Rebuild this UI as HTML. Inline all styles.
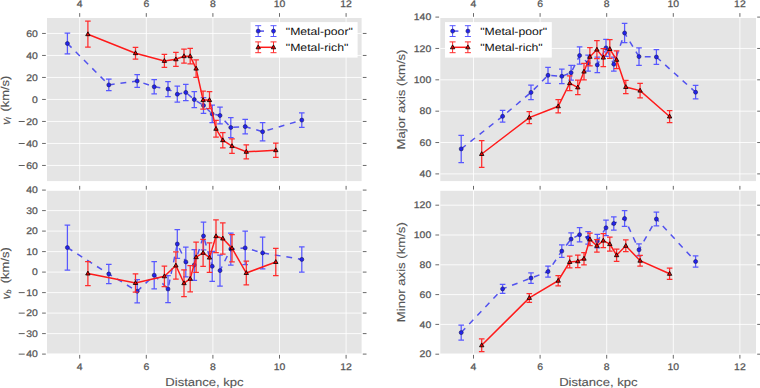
<!DOCTYPE html>
<html><head><meta charset="utf-8"><style>
html,body{margin:0;padding:0;background:#fff;width:760px;height:388px;overflow:hidden}
svg{display:block}
text{text-rendering:geometricPrecision}
.tk{font-family:"Liberation Sans",sans-serif;font-size:9.6px;fill:#555;stroke:#555;stroke-width:0.25px}
.lg{font-family:"Liberation Sans",sans-serif;font-size:10.5px;fill:#111}
.al{font-family:"Liberation Sans",sans-serif;font-size:11.4px;fill:#555;stroke:#555;stroke-width:0.12px}
.it{font-family:"Liberation Sans",sans-serif;font-style:italic;font-size:11.5px;fill:#555;stroke:#555;stroke-width:0.25px}
</style></head><body>
<svg width="760" height="388" viewBox="0 0 760 388">
<defs><clipPath id="cTL"><rect x="47.0" y="18.0" width="314.60" height="163.10"/></clipPath><clipPath id="cTR"><rect x="440.3" y="18.0" width="315.70" height="163.10"/></clipPath><clipPath id="cBL"><rect x="47.0" y="190.8" width="314.60" height="162.90"/></clipPath><clipPath id="cBR"><rect x="440.3" y="190.8" width="315.70" height="162.90"/></clipPath></defs>
<rect x="47.0" y="18.0" width="314.60" height="163.10" fill="#e5e5e5"/>
<line x1="47.0" x2="361.6" y1="33.45" y2="33.45" stroke="#fff" stroke-width="0.85"/>
<line x1="47.0" x2="361.6" y1="55.45" y2="55.45" stroke="#fff" stroke-width="0.85"/>
<line x1="47.0" x2="361.6" y1="77.45" y2="77.45" stroke="#fff" stroke-width="0.85"/>
<line x1="47.0" x2="361.6" y1="99.45" y2="99.45" stroke="#fff" stroke-width="0.85"/>
<line x1="47.0" x2="361.6" y1="121.45" y2="121.45" stroke="#fff" stroke-width="0.85"/>
<line x1="47.0" x2="361.6" y1="143.45" y2="143.45" stroke="#fff" stroke-width="0.85"/>
<line x1="47.0" x2="361.6" y1="165.45" y2="165.45" stroke="#fff" stroke-width="0.85"/>
<line x1="79.70" x2="79.70" y1="18.0" y2="181.1" stroke="#fff" stroke-width="0.85"/>
<line x1="146.30" x2="146.30" y1="18.0" y2="181.1" stroke="#fff" stroke-width="0.85"/>
<line x1="212.90" x2="212.90" y1="18.0" y2="181.1" stroke="#fff" stroke-width="0.85"/>
<line x1="279.50" x2="279.50" y1="18.0" y2="181.1" stroke="#fff" stroke-width="0.85"/>
<line x1="346.10" x2="346.10" y1="18.0" y2="181.1" stroke="#fff" stroke-width="0.85"/>
<line x1="42.1" x2="45.8" y1="33.45" y2="33.45" stroke="#444444" stroke-width="0.8"/>
<line x1="362.8" x2="366.5" y1="33.45" y2="33.45" stroke="#444444" stroke-width="0.8"/>
<line x1="42.1" x2="45.8" y1="55.45" y2="55.45" stroke="#444444" stroke-width="0.8"/>
<line x1="362.8" x2="366.5" y1="55.45" y2="55.45" stroke="#444444" stroke-width="0.8"/>
<line x1="42.1" x2="45.8" y1="77.45" y2="77.45" stroke="#444444" stroke-width="0.8"/>
<line x1="362.8" x2="366.5" y1="77.45" y2="77.45" stroke="#444444" stroke-width="0.8"/>
<line x1="42.1" x2="45.8" y1="99.45" y2="99.45" stroke="#444444" stroke-width="0.8"/>
<line x1="362.8" x2="366.5" y1="99.45" y2="99.45" stroke="#444444" stroke-width="0.8"/>
<line x1="42.1" x2="45.8" y1="121.45" y2="121.45" stroke="#444444" stroke-width="0.8"/>
<line x1="362.8" x2="366.5" y1="121.45" y2="121.45" stroke="#444444" stroke-width="0.8"/>
<line x1="42.1" x2="45.8" y1="143.45" y2="143.45" stroke="#444444" stroke-width="0.8"/>
<line x1="362.8" x2="366.5" y1="143.45" y2="143.45" stroke="#444444" stroke-width="0.8"/>
<line x1="42.1" x2="45.8" y1="165.45" y2="165.45" stroke="#444444" stroke-width="0.8"/>
<line x1="362.8" x2="366.5" y1="165.45" y2="165.45" stroke="#444444" stroke-width="0.8"/>
<line x1="79.70" x2="79.70" y1="13.1" y2="16.8" stroke="#444444" stroke-width="0.8"/>
<line x1="146.30" x2="146.30" y1="13.1" y2="16.8" stroke="#444444" stroke-width="0.8"/>
<line x1="212.90" x2="212.90" y1="13.1" y2="16.8" stroke="#444444" stroke-width="0.8"/>
<line x1="279.50" x2="279.50" y1="13.1" y2="16.8" stroke="#444444" stroke-width="0.8"/>
<line x1="346.10" x2="346.10" y1="13.1" y2="16.8" stroke="#444444" stroke-width="0.8"/>
<text x="37.90" y="36.55" text-anchor="end" class="tk" textLength="11.60" lengthAdjust="spacingAndGlyphs">60</text>
<text x="37.90" y="58.55" text-anchor="end" class="tk" textLength="11.60" lengthAdjust="spacingAndGlyphs">40</text>
<text x="37.90" y="80.55" text-anchor="end" class="tk" textLength="11.60" lengthAdjust="spacingAndGlyphs">20</text>
<text x="37.90" y="102.55" text-anchor="end" class="tk" textLength="5.80" lengthAdjust="spacingAndGlyphs">0</text>
<text x="37.90" y="124.55" text-anchor="end" class="tk" textLength="11.60" lengthAdjust="spacingAndGlyphs">20</text>
<rect x="18.70" y="121.00" width="6.0" height="0.95" fill="#555"/>
<text x="37.90" y="146.55" text-anchor="end" class="tk" textLength="11.60" lengthAdjust="spacingAndGlyphs">40</text>
<rect x="18.70" y="143.00" width="6.0" height="0.95" fill="#555"/>
<text x="37.90" y="168.55" text-anchor="end" class="tk" textLength="11.60" lengthAdjust="spacingAndGlyphs">60</text>
<rect x="18.70" y="165.00" width="6.0" height="0.95" fill="#555"/>
<text x="79.70" y="7.3" text-anchor="middle" class="tk" textLength="5.80" lengthAdjust="spacingAndGlyphs">4</text>
<text x="146.30" y="7.3" text-anchor="middle" class="tk" textLength="5.80" lengthAdjust="spacingAndGlyphs">6</text>
<text x="212.90" y="7.3" text-anchor="middle" class="tk" textLength="5.80" lengthAdjust="spacingAndGlyphs">8</text>
<text x="279.50" y="7.3" text-anchor="middle" class="tk" textLength="11.60" lengthAdjust="spacingAndGlyphs">10</text>
<text x="346.10" y="7.3" text-anchor="middle" class="tk" textLength="11.60" lengthAdjust="spacingAndGlyphs">12</text>
<polyline points="67.40,43.50 108.80,84.90 137.20,81.00 154.20,86.80 168.00,89.00 177.30,94.20 185.80,92.40 194.30,99.60 203.50,105.50 212.20,113.90 220.00,115.50 230.80,127.50 245.20,126.60 262.60,131.70 301.80,120.10" fill="none" stroke="#5252ee" stroke-width="1.5" stroke-dasharray="5.86 5.86" clip-path="url(#cTL)"/>
<path d="M67.40 33.10V53.90M64.60 33.10H70.20M64.60 53.90H70.20" stroke="#5858ff" stroke-width="1.25" fill="none"/>
<path d="M108.80 79.10V90.70M106.00 79.10H111.60M106.00 90.70H111.60" stroke="#5858ff" stroke-width="1.25" fill="none"/>
<path d="M137.20 74.65V87.35M134.40 74.65H140.00M134.40 87.35H140.00" stroke="#5858ff" stroke-width="1.25" fill="none"/>
<path d="M154.20 79.70V93.90M151.40 79.70H157.00M151.40 93.90H157.00" stroke="#5858ff" stroke-width="1.25" fill="none"/>
<path d="M168.00 81.50V96.50M165.20 81.50H170.80M165.20 96.50H170.80" stroke="#5858ff" stroke-width="1.25" fill="none"/>
<path d="M177.30 86.20V102.20M174.50 86.20H180.10M174.50 102.20H180.10" stroke="#5858ff" stroke-width="1.25" fill="none"/>
<path d="M185.80 84.30V100.50M183.00 84.30H188.60M183.00 100.50H188.60" stroke="#5858ff" stroke-width="1.25" fill="none"/>
<path d="M194.30 91.50V107.70M191.50 91.50H197.10M191.50 107.70H197.10" stroke="#5858ff" stroke-width="1.25" fill="none"/>
<path d="M203.50 97.60V113.40M200.70 97.60H206.30M200.70 113.40H206.30" stroke="#5858ff" stroke-width="1.25" fill="none"/>
<path d="M212.20 105.15V122.65M209.40 105.15H215.00M209.40 122.65H215.00" stroke="#5858ff" stroke-width="1.25" fill="none"/>
<path d="M220.00 107.20V123.80M217.20 107.20H222.80M217.20 123.80H222.80" stroke="#5858ff" stroke-width="1.25" fill="none"/>
<path d="M230.80 117.50V137.50M228.00 117.50H233.60M228.00 137.50H233.60" stroke="#5858ff" stroke-width="1.25" fill="none"/>
<path d="M245.20 119.25V133.95M242.40 119.25H248.00M242.40 133.95H248.00" stroke="#5858ff" stroke-width="1.25" fill="none"/>
<path d="M262.60 122.60V140.80M259.80 122.60H265.40M259.80 140.80H265.40" stroke="#5858ff" stroke-width="1.25" fill="none"/>
<path d="M301.80 112.90V127.30M299.00 112.90H304.60M299.00 127.30H304.60" stroke="#5858ff" stroke-width="1.25" fill="none"/>
<circle cx="67.40" cy="43.50" r="2.0" fill="#2222ee" stroke="#1a1a55" stroke-width="0.6"/>
<circle cx="108.80" cy="84.90" r="2.0" fill="#2222ee" stroke="#1a1a55" stroke-width="0.6"/>
<circle cx="137.20" cy="81.00" r="2.0" fill="#2222ee" stroke="#1a1a55" stroke-width="0.6"/>
<circle cx="154.20" cy="86.80" r="2.0" fill="#2222ee" stroke="#1a1a55" stroke-width="0.6"/>
<circle cx="168.00" cy="89.00" r="2.0" fill="#2222ee" stroke="#1a1a55" stroke-width="0.6"/>
<circle cx="177.30" cy="94.20" r="2.0" fill="#2222ee" stroke="#1a1a55" stroke-width="0.6"/>
<circle cx="185.80" cy="92.40" r="2.0" fill="#2222ee" stroke="#1a1a55" stroke-width="0.6"/>
<circle cx="194.30" cy="99.60" r="2.0" fill="#2222ee" stroke="#1a1a55" stroke-width="0.6"/>
<circle cx="203.50" cy="105.50" r="2.0" fill="#2222ee" stroke="#1a1a55" stroke-width="0.6"/>
<circle cx="212.20" cy="113.90" r="2.0" fill="#2222ee" stroke="#1a1a55" stroke-width="0.6"/>
<circle cx="220.00" cy="115.50" r="2.0" fill="#2222ee" stroke="#1a1a55" stroke-width="0.6"/>
<circle cx="230.80" cy="127.50" r="2.0" fill="#2222ee" stroke="#1a1a55" stroke-width="0.6"/>
<circle cx="245.20" cy="126.60" r="2.0" fill="#2222ee" stroke="#1a1a55" stroke-width="0.6"/>
<circle cx="262.60" cy="131.70" r="2.0" fill="#2222ee" stroke="#1a1a55" stroke-width="0.6"/>
<circle cx="301.80" cy="120.10" r="2.0" fill="#2222ee" stroke="#1a1a55" stroke-width="0.6"/>
<polyline points="87.90,34.20 135.50,53.20 164.40,60.90 175.90,59.30 184.00,56.20 190.20,56.20 196.10,68.60 203.10,100.10 209.50,100.10 216.00,128.80 222.80,140.20 232.00,146.10 246.30,151.80 275.80,150.20" fill="none" stroke="#ff1a1a" stroke-width="1.5" clip-path="url(#cTL)"/>
<path d="M87.90 21.20V47.20M85.10 21.20H90.70M85.10 47.20H90.70" stroke="#ff2c2c" stroke-width="1.25" fill="none"/>
<path d="M135.50 47.30V59.10M132.70 47.30H138.30M132.70 59.10H138.30" stroke="#ff2c2c" stroke-width="1.25" fill="none"/>
<path d="M164.40 54.40V67.40M161.60 54.40H167.20M161.60 67.40H167.20" stroke="#ff2c2c" stroke-width="1.25" fill="none"/>
<path d="M175.90 52.30V66.30M173.10 52.30H178.70M173.10 66.30H178.70" stroke="#ff2c2c" stroke-width="1.25" fill="none"/>
<path d="M184.00 49.20V63.20M181.20 49.20H186.80M181.20 63.20H186.80" stroke="#ff2c2c" stroke-width="1.25" fill="none"/>
<path d="M190.20 48.45V63.95M187.40 48.45H193.00M187.40 63.95H193.00" stroke="#ff2c2c" stroke-width="1.25" fill="none"/>
<path d="M196.10 59.95V77.25M193.30 59.95H198.90M193.30 77.25H198.90" stroke="#ff2c2c" stroke-width="1.25" fill="none"/>
<path d="M203.10 91.20V109.00M200.30 91.20H205.90M200.30 109.00H205.90" stroke="#ff2c2c" stroke-width="1.25" fill="none"/>
<path d="M209.50 91.60V108.60M206.70 91.60H212.30M206.70 108.60H212.30" stroke="#ff2c2c" stroke-width="1.25" fill="none"/>
<path d="M216.00 120.45V137.15M213.20 120.45H218.80M213.20 137.15H218.80" stroke="#ff2c2c" stroke-width="1.25" fill="none"/>
<path d="M222.80 132.50V147.90M220.00 132.50H225.60M220.00 147.90H225.60" stroke="#ff2c2c" stroke-width="1.25" fill="none"/>
<path d="M232.00 138.80V153.40M229.20 138.80H234.80M229.20 153.40H234.80" stroke="#ff2c2c" stroke-width="1.25" fill="none"/>
<path d="M246.30 144.80V158.80M243.50 144.80H249.10M243.50 158.80H249.10" stroke="#ff2c2c" stroke-width="1.25" fill="none"/>
<path d="M275.80 143.00V157.40M273.00 143.00H278.60M273.00 157.40H278.60" stroke="#ff2c2c" stroke-width="1.25" fill="none"/>
<path d="M87.90 31.80L90.10 35.70L85.70 35.70Z" fill="#ee0000" stroke="#000" stroke-width="0.8"/>
<path d="M135.50 50.80L137.70 54.70L133.30 54.70Z" fill="#ee0000" stroke="#000" stroke-width="0.8"/>
<path d="M164.40 58.50L166.60 62.40L162.20 62.40Z" fill="#ee0000" stroke="#000" stroke-width="0.8"/>
<path d="M175.90 56.90L178.10 60.80L173.70 60.80Z" fill="#ee0000" stroke="#000" stroke-width="0.8"/>
<path d="M184.00 53.80L186.20 57.70L181.80 57.70Z" fill="#ee0000" stroke="#000" stroke-width="0.8"/>
<path d="M190.20 53.80L192.40 57.70L188.00 57.70Z" fill="#ee0000" stroke="#000" stroke-width="0.8"/>
<path d="M196.10 66.20L198.30 70.10L193.90 70.10Z" fill="#ee0000" stroke="#000" stroke-width="0.8"/>
<path d="M203.10 97.70L205.30 101.60L200.90 101.60Z" fill="#ee0000" stroke="#000" stroke-width="0.8"/>
<path d="M209.50 97.70L211.70 101.60L207.30 101.60Z" fill="#ee0000" stroke="#000" stroke-width="0.8"/>
<path d="M216.00 126.40L218.20 130.30L213.80 130.30Z" fill="#ee0000" stroke="#000" stroke-width="0.8"/>
<path d="M222.80 137.80L225.00 141.70L220.60 141.70Z" fill="#ee0000" stroke="#000" stroke-width="0.8"/>
<path d="M232.00 143.70L234.20 147.60L229.80 147.60Z" fill="#ee0000" stroke="#000" stroke-width="0.8"/>
<path d="M246.30 149.40L248.50 153.30L244.10 153.30Z" fill="#ee0000" stroke="#000" stroke-width="0.8"/>
<path d="M275.80 147.80L278.00 151.70L273.60 151.70Z" fill="#ee0000" stroke="#000" stroke-width="0.8"/>
<rect x="440.3" y="18.0" width="315.70" height="163.10" fill="#e5e5e5"/>
<line x1="440.3" x2="756.0" y1="48.46" y2="48.46" stroke="#fff" stroke-width="0.85"/>
<line x1="440.3" x2="756.0" y1="79.82" y2="79.82" stroke="#fff" stroke-width="0.85"/>
<line x1="440.3" x2="756.0" y1="111.18" y2="111.18" stroke="#fff" stroke-width="0.85"/>
<line x1="440.3" x2="756.0" y1="142.54" y2="142.54" stroke="#fff" stroke-width="0.85"/>
<line x1="440.3" x2="756.0" y1="173.90" y2="173.90" stroke="#fff" stroke-width="0.85"/>
<line x1="473.50" x2="473.50" y1="18.0" y2="181.1" stroke="#fff" stroke-width="0.85"/>
<line x1="540.10" x2="540.10" y1="18.0" y2="181.1" stroke="#fff" stroke-width="0.85"/>
<line x1="606.70" x2="606.70" y1="18.0" y2="181.1" stroke="#fff" stroke-width="0.85"/>
<line x1="673.30" x2="673.30" y1="18.0" y2="181.1" stroke="#fff" stroke-width="0.85"/>
<line x1="739.90" x2="739.90" y1="18.0" y2="181.1" stroke="#fff" stroke-width="0.85"/>
<line x1="435.40000000000003" x2="439.1" y1="17.10" y2="17.10" stroke="#444444" stroke-width="0.8"/>
<line x1="757.2" x2="760.9" y1="17.10" y2="17.10" stroke="#444444" stroke-width="0.8"/>
<line x1="435.40000000000003" x2="439.1" y1="48.46" y2="48.46" stroke="#444444" stroke-width="0.8"/>
<line x1="757.2" x2="760.9" y1="48.46" y2="48.46" stroke="#444444" stroke-width="0.8"/>
<line x1="435.40000000000003" x2="439.1" y1="79.82" y2="79.82" stroke="#444444" stroke-width="0.8"/>
<line x1="757.2" x2="760.9" y1="79.82" y2="79.82" stroke="#444444" stroke-width="0.8"/>
<line x1="435.40000000000003" x2="439.1" y1="111.18" y2="111.18" stroke="#444444" stroke-width="0.8"/>
<line x1="757.2" x2="760.9" y1="111.18" y2="111.18" stroke="#444444" stroke-width="0.8"/>
<line x1="435.40000000000003" x2="439.1" y1="142.54" y2="142.54" stroke="#444444" stroke-width="0.8"/>
<line x1="757.2" x2="760.9" y1="142.54" y2="142.54" stroke="#444444" stroke-width="0.8"/>
<line x1="435.40000000000003" x2="439.1" y1="173.90" y2="173.90" stroke="#444444" stroke-width="0.8"/>
<line x1="757.2" x2="760.9" y1="173.90" y2="173.90" stroke="#444444" stroke-width="0.8"/>
<line x1="473.50" x2="473.50" y1="13.1" y2="16.8" stroke="#444444" stroke-width="0.8"/>
<line x1="540.10" x2="540.10" y1="13.1" y2="16.8" stroke="#444444" stroke-width="0.8"/>
<line x1="606.70" x2="606.70" y1="13.1" y2="16.8" stroke="#444444" stroke-width="0.8"/>
<line x1="673.30" x2="673.30" y1="13.1" y2="16.8" stroke="#444444" stroke-width="0.8"/>
<line x1="739.90" x2="739.90" y1="13.1" y2="16.8" stroke="#444444" stroke-width="0.8"/>
<text x="431.20" y="20.20" text-anchor="end" class="tk" textLength="17.40" lengthAdjust="spacingAndGlyphs">140</text>
<text x="431.20" y="51.56" text-anchor="end" class="tk" textLength="17.40" lengthAdjust="spacingAndGlyphs">120</text>
<text x="431.20" y="82.92" text-anchor="end" class="tk" textLength="17.40" lengthAdjust="spacingAndGlyphs">100</text>
<text x="431.20" y="114.28" text-anchor="end" class="tk" textLength="11.60" lengthAdjust="spacingAndGlyphs">80</text>
<text x="431.20" y="145.64" text-anchor="end" class="tk" textLength="11.60" lengthAdjust="spacingAndGlyphs">60</text>
<text x="431.20" y="177.00" text-anchor="end" class="tk" textLength="11.60" lengthAdjust="spacingAndGlyphs">40</text>
<text x="473.50" y="7.3" text-anchor="middle" class="tk" textLength="5.80" lengthAdjust="spacingAndGlyphs">4</text>
<text x="540.10" y="7.3" text-anchor="middle" class="tk" textLength="5.80" lengthAdjust="spacingAndGlyphs">6</text>
<text x="606.70" y="7.3" text-anchor="middle" class="tk" textLength="5.80" lengthAdjust="spacingAndGlyphs">8</text>
<text x="673.30" y="7.3" text-anchor="middle" class="tk" textLength="11.60" lengthAdjust="spacingAndGlyphs">10</text>
<text x="739.90" y="7.3" text-anchor="middle" class="tk" textLength="11.60" lengthAdjust="spacingAndGlyphs">12</text>
<polyline points="461.20,148.90 502.60,116.30 531.00,92.40 548.00,75.30 561.80,76.30 571.10,72.70 579.60,55.50 588.10,63.00 597.30,64.90 606.00,47.90 613.80,64.20 624.60,33.00 639.00,56.60 656.40,57.00 695.60,92.20" fill="none" stroke="#5252ee" stroke-width="1.5" stroke-dasharray="5.86 5.86" clip-path="url(#cTR)"/>
<path d="M461.20 135.30V162.50M458.40 135.30H464.00M458.40 162.50H464.00" stroke="#5858ff" stroke-width="1.25" fill="none"/>
<path d="M502.60 110.45V122.15M499.80 110.45H505.40M499.80 122.15H505.40" stroke="#5858ff" stroke-width="1.25" fill="none"/>
<path d="M531.00 85.20V99.60M528.20 85.20H533.80M528.20 99.60H533.80" stroke="#5858ff" stroke-width="1.25" fill="none"/>
<path d="M548.00 67.35V83.25M545.20 67.35H550.80M545.20 83.25H550.80" stroke="#5858ff" stroke-width="1.25" fill="none"/>
<path d="M561.80 69.10V83.50M559.00 69.10H564.60M559.00 83.50H564.60" stroke="#5858ff" stroke-width="1.25" fill="none"/>
<path d="M571.10 65.40V80.00M568.30 65.40H573.90M568.30 80.00H573.90" stroke="#5858ff" stroke-width="1.25" fill="none"/>
<path d="M579.60 46.85V64.15M576.80 46.85H582.40M576.80 64.15H582.40" stroke="#5858ff" stroke-width="1.25" fill="none"/>
<path d="M588.10 55.00V71.00M585.30 55.00H590.90M585.30 71.00H590.90" stroke="#5858ff" stroke-width="1.25" fill="none"/>
<path d="M597.30 57.15V72.65M594.50 57.15H600.10M594.50 72.65H600.10" stroke="#5858ff" stroke-width="1.25" fill="none"/>
<path d="M606.00 39.35V56.45M603.20 39.35H608.80M603.20 56.45H608.80" stroke="#5858ff" stroke-width="1.25" fill="none"/>
<path d="M613.80 57.20V71.20M611.00 57.20H616.60M611.00 71.20H616.60" stroke="#5858ff" stroke-width="1.25" fill="none"/>
<path d="M624.60 23.35V42.65M621.80 23.35H627.40M621.80 42.65H627.40" stroke="#5858ff" stroke-width="1.25" fill="none"/>
<path d="M639.00 47.75V65.45M636.20 47.75H641.80M636.20 65.45H641.80" stroke="#5858ff" stroke-width="1.25" fill="none"/>
<path d="M656.40 49.55V64.45M653.60 49.55H659.20M653.60 64.45H659.20" stroke="#5858ff" stroke-width="1.25" fill="none"/>
<path d="M695.60 85.45V98.95M692.80 85.45H698.40M692.80 98.95H698.40" stroke="#5858ff" stroke-width="1.25" fill="none"/>
<circle cx="461.20" cy="148.90" r="2.0" fill="#2222ee" stroke="#1a1a55" stroke-width="0.6"/>
<circle cx="502.60" cy="116.30" r="2.0" fill="#2222ee" stroke="#1a1a55" stroke-width="0.6"/>
<circle cx="531.00" cy="92.40" r="2.0" fill="#2222ee" stroke="#1a1a55" stroke-width="0.6"/>
<circle cx="548.00" cy="75.30" r="2.0" fill="#2222ee" stroke="#1a1a55" stroke-width="0.6"/>
<circle cx="561.80" cy="76.30" r="2.0" fill="#2222ee" stroke="#1a1a55" stroke-width="0.6"/>
<circle cx="571.10" cy="72.70" r="2.0" fill="#2222ee" stroke="#1a1a55" stroke-width="0.6"/>
<circle cx="579.60" cy="55.50" r="2.0" fill="#2222ee" stroke="#1a1a55" stroke-width="0.6"/>
<circle cx="588.10" cy="63.00" r="2.0" fill="#2222ee" stroke="#1a1a55" stroke-width="0.6"/>
<circle cx="597.30" cy="64.90" r="2.0" fill="#2222ee" stroke="#1a1a55" stroke-width="0.6"/>
<circle cx="606.00" cy="47.90" r="2.0" fill="#2222ee" stroke="#1a1a55" stroke-width="0.6"/>
<circle cx="613.80" cy="64.20" r="2.0" fill="#2222ee" stroke="#1a1a55" stroke-width="0.6"/>
<circle cx="624.60" cy="33.00" r="2.0" fill="#2222ee" stroke="#1a1a55" stroke-width="0.6"/>
<circle cx="639.00" cy="56.60" r="2.0" fill="#2222ee" stroke="#1a1a55" stroke-width="0.6"/>
<circle cx="656.40" cy="57.00" r="2.0" fill="#2222ee" stroke="#1a1a55" stroke-width="0.6"/>
<circle cx="695.60" cy="92.20" r="2.0" fill="#2222ee" stroke="#1a1a55" stroke-width="0.6"/>
<polyline points="481.70,154.00 529.30,117.60 558.20,106.30 569.70,83.20 577.80,87.40 584.00,71.60 589.90,56.80 596.90,49.60 603.30,57.60 609.80,49.00 616.60,59.80 625.80,87.00 640.10,90.60 669.60,116.50" fill="none" stroke="#ff1a1a" stroke-width="1.5" clip-path="url(#cTR)"/>
<path d="M481.70 140.70V167.30M478.90 140.70H484.50M478.90 167.30H484.50" stroke="#ff2c2c" stroke-width="1.25" fill="none"/>
<path d="M529.30 111.65V123.55M526.50 111.65H532.10M526.50 123.55H532.10" stroke="#ff2c2c" stroke-width="1.25" fill="none"/>
<path d="M558.20 99.70V112.90M555.40 99.70H561.00M555.40 112.90H561.00" stroke="#ff2c2c" stroke-width="1.25" fill="none"/>
<path d="M569.70 75.90V90.50M566.90 75.90H572.50M566.90 90.50H572.50" stroke="#ff2c2c" stroke-width="1.25" fill="none"/>
<path d="M577.80 80.15V94.65M575.00 80.15H580.60M575.00 94.65H580.60" stroke="#ff2c2c" stroke-width="1.25" fill="none"/>
<path d="M584.00 63.45V79.75M581.20 63.45H586.80M581.20 79.75H586.80" stroke="#ff2c2c" stroke-width="1.25" fill="none"/>
<path d="M589.90 47.70V65.90M587.10 47.70H592.70M587.10 65.90H592.70" stroke="#ff2c2c" stroke-width="1.25" fill="none"/>
<path d="M596.90 40.65V58.55M594.10 40.65H599.70M594.10 58.55H599.70" stroke="#ff2c2c" stroke-width="1.25" fill="none"/>
<path d="M603.30 48.55V66.65M600.50 48.55H606.10M600.50 66.65H606.10" stroke="#ff2c2c" stroke-width="1.25" fill="none"/>
<path d="M609.80 39.70V58.30M607.00 39.70H612.60M607.00 58.30H612.60" stroke="#ff2c2c" stroke-width="1.25" fill="none"/>
<path d="M616.60 50.90V68.70M613.80 50.90H619.40M613.80 68.70H619.40" stroke="#ff2c2c" stroke-width="1.25" fill="none"/>
<path d="M625.80 80.45V93.55M623.00 80.45H628.60M623.00 93.55H628.60" stroke="#ff2c2c" stroke-width="1.25" fill="none"/>
<path d="M640.10 83.35V97.85M637.30 83.35H642.90M637.30 97.85H642.90" stroke="#ff2c2c" stroke-width="1.25" fill="none"/>
<path d="M669.60 110.50V122.50M666.80 110.50H672.40M666.80 122.50H672.40" stroke="#ff2c2c" stroke-width="1.25" fill="none"/>
<path d="M481.70 151.60L483.90 155.50L479.50 155.50Z" fill="#ee0000" stroke="#000" stroke-width="0.8"/>
<path d="M529.30 115.20L531.50 119.10L527.10 119.10Z" fill="#ee0000" stroke="#000" stroke-width="0.8"/>
<path d="M558.20 103.90L560.40 107.80L556.00 107.80Z" fill="#ee0000" stroke="#000" stroke-width="0.8"/>
<path d="M569.70 80.80L571.90 84.70L567.50 84.70Z" fill="#ee0000" stroke="#000" stroke-width="0.8"/>
<path d="M577.80 85.00L580.00 88.90L575.60 88.90Z" fill="#ee0000" stroke="#000" stroke-width="0.8"/>
<path d="M584.00 69.20L586.20 73.10L581.80 73.10Z" fill="#ee0000" stroke="#000" stroke-width="0.8"/>
<path d="M589.90 54.40L592.10 58.30L587.70 58.30Z" fill="#ee0000" stroke="#000" stroke-width="0.8"/>
<path d="M596.90 47.20L599.10 51.10L594.70 51.10Z" fill="#ee0000" stroke="#000" stroke-width="0.8"/>
<path d="M603.30 55.20L605.50 59.10L601.10 59.10Z" fill="#ee0000" stroke="#000" stroke-width="0.8"/>
<path d="M609.80 46.60L612.00 50.50L607.60 50.50Z" fill="#ee0000" stroke="#000" stroke-width="0.8"/>
<path d="M616.60 57.40L618.80 61.30L614.40 61.30Z" fill="#ee0000" stroke="#000" stroke-width="0.8"/>
<path d="M625.80 84.60L628.00 88.50L623.60 88.50Z" fill="#ee0000" stroke="#000" stroke-width="0.8"/>
<path d="M640.10 88.20L642.30 92.10L637.90 92.10Z" fill="#ee0000" stroke="#000" stroke-width="0.8"/>
<path d="M669.60 114.10L671.80 118.00L667.40 118.00Z" fill="#ee0000" stroke="#000" stroke-width="0.8"/>
<rect x="47.0" y="190.8" width="314.60" height="162.90" fill="#e5e5e5"/>
<line x1="47.0" x2="361.6" y1="210.60" y2="210.60" stroke="#fff" stroke-width="0.85"/>
<line x1="47.0" x2="361.6" y1="231.10" y2="231.10" stroke="#fff" stroke-width="0.85"/>
<line x1="47.0" x2="361.6" y1="251.60" y2="251.60" stroke="#fff" stroke-width="0.85"/>
<line x1="47.0" x2="361.6" y1="272.10" y2="272.10" stroke="#fff" stroke-width="0.85"/>
<line x1="47.0" x2="361.6" y1="292.60" y2="292.60" stroke="#fff" stroke-width="0.85"/>
<line x1="47.0" x2="361.6" y1="313.10" y2="313.10" stroke="#fff" stroke-width="0.85"/>
<line x1="47.0" x2="361.6" y1="333.60" y2="333.60" stroke="#fff" stroke-width="0.85"/>
<line x1="47.0" x2="361.6" y1="354.10" y2="354.10" stroke="#fff" stroke-width="0.85"/>
<line x1="79.70" x2="79.70" y1="190.8" y2="353.7" stroke="#fff" stroke-width="0.85"/>
<line x1="146.30" x2="146.30" y1="190.8" y2="353.7" stroke="#fff" stroke-width="0.85"/>
<line x1="212.90" x2="212.90" y1="190.8" y2="353.7" stroke="#fff" stroke-width="0.85"/>
<line x1="279.50" x2="279.50" y1="190.8" y2="353.7" stroke="#fff" stroke-width="0.85"/>
<line x1="346.10" x2="346.10" y1="190.8" y2="353.7" stroke="#fff" stroke-width="0.85"/>
<line x1="42.1" x2="45.8" y1="190.10" y2="190.10" stroke="#444444" stroke-width="0.8"/>
<line x1="362.8" x2="366.5" y1="190.10" y2="190.10" stroke="#444444" stroke-width="0.8"/>
<line x1="42.1" x2="45.8" y1="210.60" y2="210.60" stroke="#444444" stroke-width="0.8"/>
<line x1="362.8" x2="366.5" y1="210.60" y2="210.60" stroke="#444444" stroke-width="0.8"/>
<line x1="42.1" x2="45.8" y1="231.10" y2="231.10" stroke="#444444" stroke-width="0.8"/>
<line x1="362.8" x2="366.5" y1="231.10" y2="231.10" stroke="#444444" stroke-width="0.8"/>
<line x1="42.1" x2="45.8" y1="251.60" y2="251.60" stroke="#444444" stroke-width="0.8"/>
<line x1="362.8" x2="366.5" y1="251.60" y2="251.60" stroke="#444444" stroke-width="0.8"/>
<line x1="42.1" x2="45.8" y1="272.10" y2="272.10" stroke="#444444" stroke-width="0.8"/>
<line x1="362.8" x2="366.5" y1="272.10" y2="272.10" stroke="#444444" stroke-width="0.8"/>
<line x1="42.1" x2="45.8" y1="292.60" y2="292.60" stroke="#444444" stroke-width="0.8"/>
<line x1="362.8" x2="366.5" y1="292.60" y2="292.60" stroke="#444444" stroke-width="0.8"/>
<line x1="42.1" x2="45.8" y1="313.10" y2="313.10" stroke="#444444" stroke-width="0.8"/>
<line x1="362.8" x2="366.5" y1="313.10" y2="313.10" stroke="#444444" stroke-width="0.8"/>
<line x1="42.1" x2="45.8" y1="333.60" y2="333.60" stroke="#444444" stroke-width="0.8"/>
<line x1="362.8" x2="366.5" y1="333.60" y2="333.60" stroke="#444444" stroke-width="0.8"/>
<line x1="42.1" x2="45.8" y1="354.10" y2="354.10" stroke="#444444" stroke-width="0.8"/>
<line x1="362.8" x2="366.5" y1="354.10" y2="354.10" stroke="#444444" stroke-width="0.8"/>
<line x1="79.70" x2="79.70" y1="185.9" y2="189.60000000000002" stroke="#444444" stroke-width="0.8"/>
<line x1="79.70" x2="79.70" y1="354.9" y2="358.59999999999997" stroke="#444444" stroke-width="0.8"/>
<line x1="146.30" x2="146.30" y1="185.9" y2="189.60000000000002" stroke="#444444" stroke-width="0.8"/>
<line x1="146.30" x2="146.30" y1="354.9" y2="358.59999999999997" stroke="#444444" stroke-width="0.8"/>
<line x1="212.90" x2="212.90" y1="185.9" y2="189.60000000000002" stroke="#444444" stroke-width="0.8"/>
<line x1="212.90" x2="212.90" y1="354.9" y2="358.59999999999997" stroke="#444444" stroke-width="0.8"/>
<line x1="279.50" x2="279.50" y1="185.9" y2="189.60000000000002" stroke="#444444" stroke-width="0.8"/>
<line x1="279.50" x2="279.50" y1="354.9" y2="358.59999999999997" stroke="#444444" stroke-width="0.8"/>
<line x1="346.10" x2="346.10" y1="185.9" y2="189.60000000000002" stroke="#444444" stroke-width="0.8"/>
<line x1="346.10" x2="346.10" y1="354.9" y2="358.59999999999997" stroke="#444444" stroke-width="0.8"/>
<text x="37.90" y="193.20" text-anchor="end" class="tk" textLength="11.60" lengthAdjust="spacingAndGlyphs">40</text>
<text x="37.90" y="213.70" text-anchor="end" class="tk" textLength="11.60" lengthAdjust="spacingAndGlyphs">30</text>
<text x="37.90" y="234.20" text-anchor="end" class="tk" textLength="11.60" lengthAdjust="spacingAndGlyphs">20</text>
<text x="37.90" y="254.70" text-anchor="end" class="tk" textLength="11.60" lengthAdjust="spacingAndGlyphs">10</text>
<text x="37.90" y="275.20" text-anchor="end" class="tk" textLength="5.80" lengthAdjust="spacingAndGlyphs">0</text>
<text x="37.90" y="295.70" text-anchor="end" class="tk" textLength="11.60" lengthAdjust="spacingAndGlyphs">10</text>
<rect x="18.70" y="292.15" width="6.0" height="0.95" fill="#555"/>
<text x="37.90" y="316.20" text-anchor="end" class="tk" textLength="11.60" lengthAdjust="spacingAndGlyphs">20</text>
<rect x="18.70" y="312.65" width="6.0" height="0.95" fill="#555"/>
<text x="37.90" y="336.70" text-anchor="end" class="tk" textLength="11.60" lengthAdjust="spacingAndGlyphs">30</text>
<rect x="18.70" y="333.15" width="6.0" height="0.95" fill="#555"/>
<text x="37.90" y="357.20" text-anchor="end" class="tk" textLength="11.60" lengthAdjust="spacingAndGlyphs">40</text>
<rect x="18.70" y="353.65" width="6.0" height="0.95" fill="#555"/>
<text x="79.70" y="369.5" text-anchor="middle" class="tk" textLength="5.80" lengthAdjust="spacingAndGlyphs">4</text>
<text x="146.30" y="369.5" text-anchor="middle" class="tk" textLength="5.80" lengthAdjust="spacingAndGlyphs">6</text>
<text x="212.90" y="369.5" text-anchor="middle" class="tk" textLength="5.80" lengthAdjust="spacingAndGlyphs">8</text>
<text x="279.50" y="369.5" text-anchor="middle" class="tk" textLength="11.60" lengthAdjust="spacingAndGlyphs">10</text>
<text x="346.10" y="369.5" text-anchor="middle" class="tk" textLength="11.60" lengthAdjust="spacingAndGlyphs">12</text>
<polyline points="67.40,247.60 108.80,274.00 137.20,291.20 154.20,275.20 168.00,289.00 177.30,244.00 185.80,261.90 194.30,265.00 203.50,236.00 212.20,266.30 220.00,270.60 230.80,249.00 245.20,247.90 262.60,252.90 301.80,259.40" fill="none" stroke="#5252ee" stroke-width="1.5" stroke-dasharray="5.86 5.86" clip-path="url(#cBL)"/>
<path d="M67.40 225.10V270.10M64.60 225.10H70.20M64.60 270.10H70.20" stroke="#5858ff" stroke-width="1.25" fill="none"/>
<path d="M108.80 264.35V283.65M106.00 264.35H111.60M106.00 283.65H111.60" stroke="#5858ff" stroke-width="1.25" fill="none"/>
<path d="M137.20 279.60V302.80M134.40 279.60H140.00M134.40 302.80H140.00" stroke="#5858ff" stroke-width="1.25" fill="none"/>
<path d="M154.20 261.60V288.80M151.40 261.60H157.00M151.40 288.80H157.00" stroke="#5858ff" stroke-width="1.25" fill="none"/>
<path d="M168.00 275.50V302.50M165.20 275.50H170.80M165.20 302.50H170.80" stroke="#5858ff" stroke-width="1.25" fill="none"/>
<path d="M177.30 229.70V258.30M174.50 229.70H180.10M174.50 258.30H180.10" stroke="#5858ff" stroke-width="1.25" fill="none"/>
<path d="M185.80 247.05V276.75M183.00 247.05H188.60M183.00 276.75H188.60" stroke="#5858ff" stroke-width="1.25" fill="none"/>
<path d="M194.30 249.65V280.35M191.50 249.65H197.10M191.50 280.35H197.10" stroke="#5858ff" stroke-width="1.25" fill="none"/>
<path d="M203.50 222.15V249.85M200.70 222.15H206.30M200.70 249.85H206.30" stroke="#5858ff" stroke-width="1.25" fill="none"/>
<path d="M212.20 251.35V281.25M209.40 251.35H215.00M209.40 281.25H215.00" stroke="#5858ff" stroke-width="1.25" fill="none"/>
<path d="M220.00 255.10V286.10M217.20 255.10H222.80M217.20 286.10H222.80" stroke="#5858ff" stroke-width="1.25" fill="none"/>
<path d="M230.80 233.00V265.00M228.00 233.00H233.60M228.00 265.00H233.60" stroke="#5858ff" stroke-width="1.25" fill="none"/>
<path d="M245.20 231.20V264.60M242.40 231.20H248.00M242.40 264.60H248.00" stroke="#5858ff" stroke-width="1.25" fill="none"/>
<path d="M262.60 237.05V268.75M259.80 237.05H265.40M259.80 268.75H265.40" stroke="#5858ff" stroke-width="1.25" fill="none"/>
<path d="M301.80 246.75V272.05M299.00 246.75H304.60M299.00 272.05H304.60" stroke="#5858ff" stroke-width="1.25" fill="none"/>
<circle cx="67.40" cy="247.60" r="2.0" fill="#2222ee" stroke="#1a1a55" stroke-width="0.6"/>
<circle cx="108.80" cy="274.00" r="2.0" fill="#2222ee" stroke="#1a1a55" stroke-width="0.6"/>
<circle cx="137.20" cy="291.20" r="2.0" fill="#2222ee" stroke="#1a1a55" stroke-width="0.6"/>
<circle cx="154.20" cy="275.20" r="2.0" fill="#2222ee" stroke="#1a1a55" stroke-width="0.6"/>
<circle cx="168.00" cy="289.00" r="2.0" fill="#2222ee" stroke="#1a1a55" stroke-width="0.6"/>
<circle cx="177.30" cy="244.00" r="2.0" fill="#2222ee" stroke="#1a1a55" stroke-width="0.6"/>
<circle cx="185.80" cy="261.90" r="2.0" fill="#2222ee" stroke="#1a1a55" stroke-width="0.6"/>
<circle cx="194.30" cy="265.00" r="2.0" fill="#2222ee" stroke="#1a1a55" stroke-width="0.6"/>
<circle cx="203.50" cy="236.00" r="2.0" fill="#2222ee" stroke="#1a1a55" stroke-width="0.6"/>
<circle cx="212.20" cy="266.30" r="2.0" fill="#2222ee" stroke="#1a1a55" stroke-width="0.6"/>
<circle cx="220.00" cy="270.60" r="2.0" fill="#2222ee" stroke="#1a1a55" stroke-width="0.6"/>
<circle cx="230.80" cy="249.00" r="2.0" fill="#2222ee" stroke="#1a1a55" stroke-width="0.6"/>
<circle cx="245.20" cy="247.90" r="2.0" fill="#2222ee" stroke="#1a1a55" stroke-width="0.6"/>
<circle cx="262.60" cy="252.90" r="2.0" fill="#2222ee" stroke="#1a1a55" stroke-width="0.6"/>
<circle cx="301.80" cy="259.40" r="2.0" fill="#2222ee" stroke="#1a1a55" stroke-width="0.6"/>
<polyline points="87.90,273.50 135.50,283.00 164.40,276.30 175.90,265.50 184.00,283.20 190.20,278.80 196.10,257.20 203.10,252.80 209.50,257.60 216.00,236.20 222.80,238.50 232.00,248.20 246.30,273.00 275.80,262.00" fill="none" stroke="#ff1a1a" stroke-width="1.5" clip-path="url(#cBL)"/>
<path d="M87.90 261.50V285.50M85.10 261.50H90.70M85.10 285.50H90.70" stroke="#ff2c2c" stroke-width="1.25" fill="none"/>
<path d="M135.50 273.95V292.05M132.70 273.95H138.30M132.70 292.05H138.30" stroke="#ff2c2c" stroke-width="1.25" fill="none"/>
<path d="M164.40 266.05V286.55M161.60 266.05H167.20M161.60 286.55H167.20" stroke="#ff2c2c" stroke-width="1.25" fill="none"/>
<path d="M175.90 251.80V279.20M173.10 251.80H178.70M173.10 279.20H178.70" stroke="#ff2c2c" stroke-width="1.25" fill="none"/>
<path d="M184.00 269.80V296.60M181.20 269.80H186.80M181.20 296.60H186.80" stroke="#ff2c2c" stroke-width="1.25" fill="none"/>
<path d="M190.20 265.70V291.90M187.40 265.70H193.00M187.40 291.90H193.00" stroke="#ff2c2c" stroke-width="1.25" fill="none"/>
<path d="M196.10 242.15V272.25M193.30 242.15H198.90M193.30 272.25H198.90" stroke="#ff2c2c" stroke-width="1.25" fill="none"/>
<path d="M203.10 239.30V266.30M200.30 239.30H205.90M200.30 266.30H205.90" stroke="#ff2c2c" stroke-width="1.25" fill="none"/>
<path d="M209.50 242.95V272.25M206.70 242.95H212.30M206.70 272.25H212.30" stroke="#ff2c2c" stroke-width="1.25" fill="none"/>
<path d="M216.00 219.90V252.50M213.20 219.90H218.80M213.20 252.50H218.80" stroke="#ff2c2c" stroke-width="1.25" fill="none"/>
<path d="M222.80 222.90V254.10M220.00 222.90H225.60M220.00 254.10H225.60" stroke="#ff2c2c" stroke-width="1.25" fill="none"/>
<path d="M232.00 234.65V261.75M229.20 234.65H234.80M229.20 261.75H234.80" stroke="#ff2c2c" stroke-width="1.25" fill="none"/>
<path d="M246.30 261.05V284.95M243.50 261.05H249.10M243.50 284.95H249.10" stroke="#ff2c2c" stroke-width="1.25" fill="none"/>
<path d="M275.80 248.35V275.65M273.00 248.35H278.60M273.00 275.65H278.60" stroke="#ff2c2c" stroke-width="1.25" fill="none"/>
<path d="M87.90 271.10L90.10 275.00L85.70 275.00Z" fill="#ee0000" stroke="#000" stroke-width="0.8"/>
<path d="M135.50 280.60L137.70 284.50L133.30 284.50Z" fill="#ee0000" stroke="#000" stroke-width="0.8"/>
<path d="M164.40 273.90L166.60 277.80L162.20 277.80Z" fill="#ee0000" stroke="#000" stroke-width="0.8"/>
<path d="M175.90 263.10L178.10 267.00L173.70 267.00Z" fill="#ee0000" stroke="#000" stroke-width="0.8"/>
<path d="M184.00 280.80L186.20 284.70L181.80 284.70Z" fill="#ee0000" stroke="#000" stroke-width="0.8"/>
<path d="M190.20 276.40L192.40 280.30L188.00 280.30Z" fill="#ee0000" stroke="#000" stroke-width="0.8"/>
<path d="M196.10 254.80L198.30 258.70L193.90 258.70Z" fill="#ee0000" stroke="#000" stroke-width="0.8"/>
<path d="M203.10 250.40L205.30 254.30L200.90 254.30Z" fill="#ee0000" stroke="#000" stroke-width="0.8"/>
<path d="M209.50 255.20L211.70 259.10L207.30 259.10Z" fill="#ee0000" stroke="#000" stroke-width="0.8"/>
<path d="M216.00 233.80L218.20 237.70L213.80 237.70Z" fill="#ee0000" stroke="#000" stroke-width="0.8"/>
<path d="M222.80 236.10L225.00 240.00L220.60 240.00Z" fill="#ee0000" stroke="#000" stroke-width="0.8"/>
<path d="M232.00 245.80L234.20 249.70L229.80 249.70Z" fill="#ee0000" stroke="#000" stroke-width="0.8"/>
<path d="M246.30 270.60L248.50 274.50L244.10 274.50Z" fill="#ee0000" stroke="#000" stroke-width="0.8"/>
<path d="M275.80 259.60L278.00 263.50L273.60 263.50Z" fill="#ee0000" stroke="#000" stroke-width="0.8"/>
<rect x="440.3" y="190.8" width="315.70" height="162.90" fill="#e5e5e5"/>
<line x1="440.3" x2="756.0" y1="205.20" y2="205.20" stroke="#fff" stroke-width="0.85"/>
<line x1="440.3" x2="756.0" y1="235.00" y2="235.00" stroke="#fff" stroke-width="0.85"/>
<line x1="440.3" x2="756.0" y1="264.80" y2="264.80" stroke="#fff" stroke-width="0.85"/>
<line x1="440.3" x2="756.0" y1="294.60" y2="294.60" stroke="#fff" stroke-width="0.85"/>
<line x1="440.3" x2="756.0" y1="324.40" y2="324.40" stroke="#fff" stroke-width="0.85"/>
<line x1="440.3" x2="756.0" y1="354.20" y2="354.20" stroke="#fff" stroke-width="0.85"/>
<line x1="473.50" x2="473.50" y1="190.8" y2="353.7" stroke="#fff" stroke-width="0.85"/>
<line x1="540.10" x2="540.10" y1="190.8" y2="353.7" stroke="#fff" stroke-width="0.85"/>
<line x1="606.70" x2="606.70" y1="190.8" y2="353.7" stroke="#fff" stroke-width="0.85"/>
<line x1="673.30" x2="673.30" y1="190.8" y2="353.7" stroke="#fff" stroke-width="0.85"/>
<line x1="739.90" x2="739.90" y1="190.8" y2="353.7" stroke="#fff" stroke-width="0.85"/>
<line x1="435.40000000000003" x2="439.1" y1="205.20" y2="205.20" stroke="#444444" stroke-width="0.8"/>
<line x1="757.2" x2="760.9" y1="205.20" y2="205.20" stroke="#444444" stroke-width="0.8"/>
<line x1="435.40000000000003" x2="439.1" y1="235.00" y2="235.00" stroke="#444444" stroke-width="0.8"/>
<line x1="757.2" x2="760.9" y1="235.00" y2="235.00" stroke="#444444" stroke-width="0.8"/>
<line x1="435.40000000000003" x2="439.1" y1="264.80" y2="264.80" stroke="#444444" stroke-width="0.8"/>
<line x1="757.2" x2="760.9" y1="264.80" y2="264.80" stroke="#444444" stroke-width="0.8"/>
<line x1="435.40000000000003" x2="439.1" y1="294.60" y2="294.60" stroke="#444444" stroke-width="0.8"/>
<line x1="757.2" x2="760.9" y1="294.60" y2="294.60" stroke="#444444" stroke-width="0.8"/>
<line x1="435.40000000000003" x2="439.1" y1="324.40" y2="324.40" stroke="#444444" stroke-width="0.8"/>
<line x1="757.2" x2="760.9" y1="324.40" y2="324.40" stroke="#444444" stroke-width="0.8"/>
<line x1="435.40000000000003" x2="439.1" y1="354.20" y2="354.20" stroke="#444444" stroke-width="0.8"/>
<line x1="757.2" x2="760.9" y1="354.20" y2="354.20" stroke="#444444" stroke-width="0.8"/>
<line x1="473.50" x2="473.50" y1="185.9" y2="189.60000000000002" stroke="#444444" stroke-width="0.8"/>
<line x1="473.50" x2="473.50" y1="354.9" y2="358.59999999999997" stroke="#444444" stroke-width="0.8"/>
<line x1="540.10" x2="540.10" y1="185.9" y2="189.60000000000002" stroke="#444444" stroke-width="0.8"/>
<line x1="540.10" x2="540.10" y1="354.9" y2="358.59999999999997" stroke="#444444" stroke-width="0.8"/>
<line x1="606.70" x2="606.70" y1="185.9" y2="189.60000000000002" stroke="#444444" stroke-width="0.8"/>
<line x1="606.70" x2="606.70" y1="354.9" y2="358.59999999999997" stroke="#444444" stroke-width="0.8"/>
<line x1="673.30" x2="673.30" y1="185.9" y2="189.60000000000002" stroke="#444444" stroke-width="0.8"/>
<line x1="673.30" x2="673.30" y1="354.9" y2="358.59999999999997" stroke="#444444" stroke-width="0.8"/>
<line x1="739.90" x2="739.90" y1="185.9" y2="189.60000000000002" stroke="#444444" stroke-width="0.8"/>
<line x1="739.90" x2="739.90" y1="354.9" y2="358.59999999999997" stroke="#444444" stroke-width="0.8"/>
<text x="431.20" y="208.30" text-anchor="end" class="tk" textLength="17.40" lengthAdjust="spacingAndGlyphs">120</text>
<text x="431.20" y="238.10" text-anchor="end" class="tk" textLength="17.40" lengthAdjust="spacingAndGlyphs">100</text>
<text x="431.20" y="267.90" text-anchor="end" class="tk" textLength="11.60" lengthAdjust="spacingAndGlyphs">80</text>
<text x="431.20" y="297.70" text-anchor="end" class="tk" textLength="11.60" lengthAdjust="spacingAndGlyphs">60</text>
<text x="431.20" y="327.50" text-anchor="end" class="tk" textLength="11.60" lengthAdjust="spacingAndGlyphs">40</text>
<text x="431.20" y="357.30" text-anchor="end" class="tk" textLength="11.60" lengthAdjust="spacingAndGlyphs">20</text>
<text x="473.50" y="369.5" text-anchor="middle" class="tk" textLength="5.80" lengthAdjust="spacingAndGlyphs">4</text>
<text x="540.10" y="369.5" text-anchor="middle" class="tk" textLength="5.80" lengthAdjust="spacingAndGlyphs">6</text>
<text x="606.70" y="369.5" text-anchor="middle" class="tk" textLength="5.80" lengthAdjust="spacingAndGlyphs">8</text>
<text x="673.30" y="369.5" text-anchor="middle" class="tk" textLength="11.60" lengthAdjust="spacingAndGlyphs">10</text>
<text x="739.90" y="369.5" text-anchor="middle" class="tk" textLength="11.60" lengthAdjust="spacingAndGlyphs">12</text>
<polyline points="461.20,332.60 502.60,288.90 531.00,278.10 548.00,271.60 561.80,251.10 571.10,239.10 579.60,234.70 588.10,237.80 597.30,241.10 606.00,227.80 613.80,223.50 624.60,218.50 639.00,249.80 656.40,219.00 695.60,261.50" fill="none" stroke="#5252ee" stroke-width="1.5" stroke-dasharray="5.86 5.86" clip-path="url(#cBR)"/>
<path d="M461.20 325.10V340.10M458.40 325.10H464.00M458.40 340.10H464.00" stroke="#5858ff" stroke-width="1.25" fill="none"/>
<path d="M502.60 284.40V293.40M499.80 284.40H505.40M499.80 293.40H505.40" stroke="#5858ff" stroke-width="1.25" fill="none"/>
<path d="M531.00 272.95V283.25M528.20 272.95H533.80M528.20 283.25H533.80" stroke="#5858ff" stroke-width="1.25" fill="none"/>
<path d="M548.00 266.20V277.00M545.20 266.20H550.80M545.20 277.00H550.80" stroke="#5858ff" stroke-width="1.25" fill="none"/>
<path d="M561.80 244.95V257.25M559.00 244.95H564.60M559.00 257.25H564.60" stroke="#5858ff" stroke-width="1.25" fill="none"/>
<path d="M571.10 232.80V245.40M568.30 232.80H573.90M568.30 245.40H573.90" stroke="#5858ff" stroke-width="1.25" fill="none"/>
<path d="M579.60 227.55V241.85M576.80 227.55H582.40M576.80 241.85H582.40" stroke="#5858ff" stroke-width="1.25" fill="none"/>
<path d="M588.10 231.60V244.00M585.30 231.60H590.90M585.30 244.00H590.90" stroke="#5858ff" stroke-width="1.25" fill="none"/>
<path d="M597.30 234.45V247.75M594.50 234.45H600.10M594.50 247.75H600.10" stroke="#5858ff" stroke-width="1.25" fill="none"/>
<path d="M606.00 220.10V235.50M603.20 220.10H608.80M603.20 235.50H608.80" stroke="#5858ff" stroke-width="1.25" fill="none"/>
<path d="M613.80 216.95V230.05M611.00 216.95H616.60M611.00 230.05H616.60" stroke="#5858ff" stroke-width="1.25" fill="none"/>
<path d="M624.60 210.60V226.40M621.80 210.60H627.40M621.80 226.40H627.40" stroke="#5858ff" stroke-width="1.25" fill="none"/>
<path d="M639.00 243.75V255.85M636.20 243.75H641.80M636.20 255.85H641.80" stroke="#5858ff" stroke-width="1.25" fill="none"/>
<path d="M656.40 212.05V225.95M653.60 212.05H659.20M653.60 225.95H659.20" stroke="#5858ff" stroke-width="1.25" fill="none"/>
<path d="M695.60 255.90V267.10M692.80 255.90H698.40M692.80 267.10H698.40" stroke="#5858ff" stroke-width="1.25" fill="none"/>
<circle cx="461.20" cy="332.60" r="2.0" fill="#2222ee" stroke="#1a1a55" stroke-width="0.6"/>
<circle cx="502.60" cy="288.90" r="2.0" fill="#2222ee" stroke="#1a1a55" stroke-width="0.6"/>
<circle cx="531.00" cy="278.10" r="2.0" fill="#2222ee" stroke="#1a1a55" stroke-width="0.6"/>
<circle cx="548.00" cy="271.60" r="2.0" fill="#2222ee" stroke="#1a1a55" stroke-width="0.6"/>
<circle cx="561.80" cy="251.10" r="2.0" fill="#2222ee" stroke="#1a1a55" stroke-width="0.6"/>
<circle cx="571.10" cy="239.10" r="2.0" fill="#2222ee" stroke="#1a1a55" stroke-width="0.6"/>
<circle cx="579.60" cy="234.70" r="2.0" fill="#2222ee" stroke="#1a1a55" stroke-width="0.6"/>
<circle cx="588.10" cy="237.80" r="2.0" fill="#2222ee" stroke="#1a1a55" stroke-width="0.6"/>
<circle cx="597.30" cy="241.10" r="2.0" fill="#2222ee" stroke="#1a1a55" stroke-width="0.6"/>
<circle cx="606.00" cy="227.80" r="2.0" fill="#2222ee" stroke="#1a1a55" stroke-width="0.6"/>
<circle cx="613.80" cy="223.50" r="2.0" fill="#2222ee" stroke="#1a1a55" stroke-width="0.6"/>
<circle cx="624.60" cy="218.50" r="2.0" fill="#2222ee" stroke="#1a1a55" stroke-width="0.6"/>
<circle cx="639.00" cy="249.80" r="2.0" fill="#2222ee" stroke="#1a1a55" stroke-width="0.6"/>
<circle cx="656.40" cy="219.00" r="2.0" fill="#2222ee" stroke="#1a1a55" stroke-width="0.6"/>
<circle cx="695.60" cy="261.50" r="2.0" fill="#2222ee" stroke="#1a1a55" stroke-width="0.6"/>
<polyline points="481.70,345.30 529.30,297.90 558.20,280.70 569.70,262.00 577.80,261.30 584.00,258.70 589.90,239.40 596.90,245.80 603.30,240.60 609.80,244.10 616.60,255.20 625.80,245.80 640.10,260.70 669.60,273.80" fill="none" stroke="#ff1a1a" stroke-width="1.5" clip-path="url(#cBR)"/>
<path d="M481.70 338.95V351.65M478.90 338.95H484.50M478.90 351.65H484.50" stroke="#ff2c2c" stroke-width="1.25" fill="none"/>
<path d="M529.30 293.50V302.30M526.50 293.50H532.10M526.50 302.30H532.10" stroke="#ff2c2c" stroke-width="1.25" fill="none"/>
<path d="M558.20 275.55V285.85M555.40 275.55H561.00M555.40 285.85H561.00" stroke="#ff2c2c" stroke-width="1.25" fill="none"/>
<path d="M569.70 256.15V267.85M566.90 256.15H572.50M566.90 267.85H572.50" stroke="#ff2c2c" stroke-width="1.25" fill="none"/>
<path d="M577.80 255.10V267.50M575.00 255.10H580.60M575.00 267.50H580.60" stroke="#ff2c2c" stroke-width="1.25" fill="none"/>
<path d="M584.00 252.50V264.90M581.20 252.50H586.80M581.20 264.90H586.80" stroke="#ff2c2c" stroke-width="1.25" fill="none"/>
<path d="M589.90 233.10V245.70M587.10 233.10H592.70M587.10 245.70H592.70" stroke="#ff2c2c" stroke-width="1.25" fill="none"/>
<path d="M596.90 239.60V252.00M594.10 239.60H599.70M594.10 252.00H599.70" stroke="#ff2c2c" stroke-width="1.25" fill="none"/>
<path d="M603.30 233.60V247.60M600.50 233.60H606.10M600.50 247.60H606.10" stroke="#ff2c2c" stroke-width="1.25" fill="none"/>
<path d="M609.80 237.00V251.20M607.00 237.00H612.60M607.00 251.20H612.60" stroke="#ff2c2c" stroke-width="1.25" fill="none"/>
<path d="M616.60 249.10V261.30M613.80 249.10H619.40M613.80 261.30H619.40" stroke="#ff2c2c" stroke-width="1.25" fill="none"/>
<path d="M625.80 239.90V251.70M623.00 239.90H628.60M623.00 251.70H628.60" stroke="#ff2c2c" stroke-width="1.25" fill="none"/>
<path d="M640.10 255.25V266.15M637.30 255.25H642.90M637.30 266.15H642.90" stroke="#ff2c2c" stroke-width="1.25" fill="none"/>
<path d="M669.60 268.20V279.40M666.80 268.20H672.40M666.80 279.40H672.40" stroke="#ff2c2c" stroke-width="1.25" fill="none"/>
<path d="M481.70 342.90L483.90 346.80L479.50 346.80Z" fill="#ee0000" stroke="#000" stroke-width="0.8"/>
<path d="M529.30 295.50L531.50 299.40L527.10 299.40Z" fill="#ee0000" stroke="#000" stroke-width="0.8"/>
<path d="M558.20 278.30L560.40 282.20L556.00 282.20Z" fill="#ee0000" stroke="#000" stroke-width="0.8"/>
<path d="M569.70 259.60L571.90 263.50L567.50 263.50Z" fill="#ee0000" stroke="#000" stroke-width="0.8"/>
<path d="M577.80 258.90L580.00 262.80L575.60 262.80Z" fill="#ee0000" stroke="#000" stroke-width="0.8"/>
<path d="M584.00 256.30L586.20 260.20L581.80 260.20Z" fill="#ee0000" stroke="#000" stroke-width="0.8"/>
<path d="M589.90 237.00L592.10 240.90L587.70 240.90Z" fill="#ee0000" stroke="#000" stroke-width="0.8"/>
<path d="M596.90 243.40L599.10 247.30L594.70 247.30Z" fill="#ee0000" stroke="#000" stroke-width="0.8"/>
<path d="M603.30 238.20L605.50 242.10L601.10 242.10Z" fill="#ee0000" stroke="#000" stroke-width="0.8"/>
<path d="M609.80 241.70L612.00 245.60L607.60 245.60Z" fill="#ee0000" stroke="#000" stroke-width="0.8"/>
<path d="M616.60 252.80L618.80 256.70L614.40 256.70Z" fill="#ee0000" stroke="#000" stroke-width="0.8"/>
<path d="M625.80 243.40L628.00 247.30L623.60 247.30Z" fill="#ee0000" stroke="#000" stroke-width="0.8"/>
<path d="M640.10 258.30L642.30 262.20L637.90 262.20Z" fill="#ee0000" stroke="#000" stroke-width="0.8"/>
<path d="M669.60 271.40L671.80 275.30L667.40 275.30Z" fill="#ee0000" stroke="#000" stroke-width="0.8"/>
<rect x="250.6" y="22.1" width="107.00" height="35.50" fill="#fff"/>
<path d="M258.20 31.1H264.00" stroke="#5252ee" stroke-width="1.5"/>
<path d="M258.20 25.70V36.50M255.20 25.70H261.20M255.20 36.50H261.20" stroke="#5858ff" stroke-width="1" fill="none"/>
<circle cx="258.20" cy="31.1" r="2.0" fill="#2222ee" stroke="#1a1a55" stroke-width="0.6"/>
<path d="M273.50 25.70V36.50M270.50 25.70H276.50M270.50 36.50H276.50" stroke="#5858ff" stroke-width="1" fill="none"/>
<circle cx="273.50" cy="31.1" r="2.0" fill="#2222ee" stroke="#1a1a55" stroke-width="0.6"/>
<text x="285.80" y="35.0" class="lg" textLength="67" lengthAdjust="spacingAndGlyphs">"Metal-poor"</text>
<path d="M258.20 47.3H273.50" stroke="#ff1a1a" stroke-width="1.5"/>
<path d="M258.20 41.90V52.70M255.20 41.90H261.20M255.20 52.70H261.20" stroke="#ff2c2c" stroke-width="1" fill="none"/>
<path d="M258.20 44.90L260.40 48.80L256.00 48.80Z" fill="#ee0000" stroke="#000" stroke-width="0.8"/>
<path d="M273.50 41.90V52.70M270.50 41.90H276.50M270.50 52.70H276.50" stroke="#ff2c2c" stroke-width="1" fill="none"/>
<path d="M273.50 44.90L275.70 48.80L271.30 48.80Z" fill="#ee0000" stroke="#000" stroke-width="0.8"/>
<text x="285.80" y="51.2" class="lg" textLength="62.5" lengthAdjust="spacingAndGlyphs">"Metal-rich"</text>
<rect x="445.0" y="22.1" width="106.80" height="35.50" fill="#fff"/>
<path d="M452.60 31.1H458.40" stroke="#5252ee" stroke-width="1.5"/>
<path d="M452.60 25.70V36.50M449.60 25.70H455.60M449.60 36.50H455.60" stroke="#5858ff" stroke-width="1" fill="none"/>
<circle cx="452.60" cy="31.1" r="2.0" fill="#2222ee" stroke="#1a1a55" stroke-width="0.6"/>
<path d="M467.90 25.70V36.50M464.90 25.70H470.90M464.90 36.50H470.90" stroke="#5858ff" stroke-width="1" fill="none"/>
<circle cx="467.90" cy="31.1" r="2.0" fill="#2222ee" stroke="#1a1a55" stroke-width="0.6"/>
<text x="480.20" y="35.0" class="lg" textLength="67" lengthAdjust="spacingAndGlyphs">"Metal-poor"</text>
<path d="M452.60 47.3H467.90" stroke="#ff1a1a" stroke-width="1.5"/>
<path d="M452.60 41.90V52.70M449.60 41.90H455.60M449.60 52.70H455.60" stroke="#ff2c2c" stroke-width="1" fill="none"/>
<path d="M452.60 44.90L454.80 48.80L450.40 48.80Z" fill="#ee0000" stroke="#000" stroke-width="0.8"/>
<path d="M467.90 41.90V52.70M464.90 41.90H470.90M464.90 52.70H470.90" stroke="#ff2c2c" stroke-width="1" fill="none"/>
<path d="M467.90 44.90L470.10 48.80L465.70 48.80Z" fill="#ee0000" stroke="#000" stroke-width="0.8"/>
<text x="480.20" y="51.2" class="lg" textLength="62.5" lengthAdjust="spacingAndGlyphs">"Metal-rich"</text>
<text x="204.5" y="385.5" text-anchor="middle" class="al" textLength="78.3" lengthAdjust="spacingAndGlyphs">Distance, kpc</text>
<text x="598.30" y="385.5" text-anchor="middle" class="al" textLength="78.3" lengthAdjust="spacingAndGlyphs">Distance, kpc</text>
<text transform="translate(405.0,99.5) rotate(-90)" text-anchor="middle" class="al" textLength="100" lengthAdjust="spacingAndGlyphs">Major axis (km/s)</text>
<text transform="translate(405.0,272.2) rotate(-90)" text-anchor="middle" class="al" textLength="100" lengthAdjust="spacingAndGlyphs">Minor axis (km/s)</text>
<text transform="translate(8.8,93.6) rotate(-90)" text-anchor="middle" class="al" textLength="36" lengthAdjust="spacingAndGlyphs">(km/s)</text>
<text transform="translate(8.8,265.2) rotate(-90)" text-anchor="middle" class="al" textLength="36" lengthAdjust="spacingAndGlyphs">(km/s)</text>
<text transform="translate(9.6,124.8) rotate(-90)" class="it">v<tspan dy="1.6" font-size="7">l</tspan></text>
<text transform="translate(9.6,299.3) rotate(-90)" class="it">v<tspan dy="1.6" font-size="7">b</tspan></text>
</svg></body></html>
